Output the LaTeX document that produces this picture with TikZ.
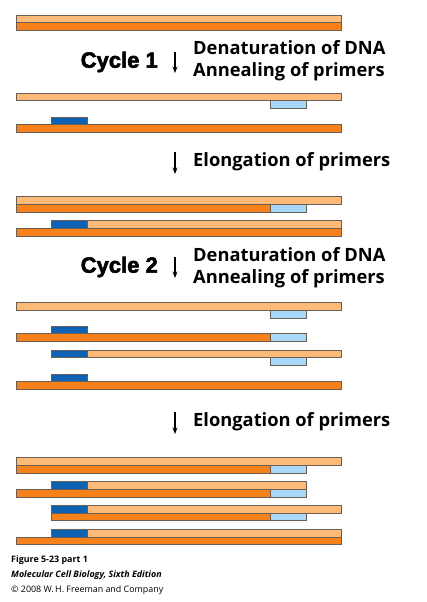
\documentclass[tikz,border=0pt]{standalone}
\usepackage{fontspec}
\setmainfont{Open Sans}
\newfontfamily\heavyfont[FakeBold=2.6]{Liberation Sans Bold}
\newfontfamily\capfont{Open Sans}
\usetikzlibrary{arrows.meta}
\definecolor{LO}{HTML}{FDBA78}
\definecolor{DO}{HTML}{F7821B}
\definecolor{LB}{HTML}{A8D8F8}
\definecolor{DB}{HTML}{0E62B4}
\definecolor{EDGE}{HTML}{6A5E55}
\tikzset{
  seg/.style={draw=EDGE, line width=0.6pt},
  stepword/.style={anchor=west, inner sep=0pt, font=\bfseries\fontsize{18.3}{18.3}\selectfont},
  cyclelabel/.style={anchor=east, inner sep=0pt, font=\heavyfont\fontsize{22}{22}\selectfont},
  downarrow/.style={line width=1.2pt, -{Stealth[length=6.5pt,width=5pt]}},
  captext/.style={anchor=west, inner sep=0pt, font=\capfont\fontsize{8.9}{8.9}\selectfont}
}
\newcommand{\sg}[4]{\fill[#4] (#1,#3) rectangle (#2,#3+7.6); \draw[seg] (#1,#3) rectangle (#2,#3+7.6);}
\begin{document}
\begin{tikzpicture}[x=1pt,y=-1pt]
\useasboundingbox[fill=white] (0,0) rectangle (426,602);
% initial duplex
\sg{16}{341}{15}{LO}\sg{16}{341}{22.6}{DO}
% cycle 1 text
\node[cyclelabel] (c1) at (158,62) {Cycle 1};
\coordinate (a1s) at (175,52); \coordinate (a1e) at (175,73);
\draw[downarrow] (a1s) -- (a1e);
\node[stepword] (d1) at (193,48) {Denaturation of DNA};
\node[stepword] (an1) at (193,72) {Annealing of primers};
% after annealing
\sg{16}{341}{93}{LO}\sg{270}{306}{100.6}{LB}
\sg{51}{87}{117}{DB}\sg{16}{341}{124.6}{DO}
% elongation 1
\coordinate (a2s) at (175,152); \coordinate (a2e) at (175,174);
\draw[downarrow] (a2s) -- (a2e);
\node[stepword] (e1) at (193,162) {Elongation of primers};
\sg{16}{341}{196.7}{LO}\sg{16}{270}{204.3}{DO}\sg{270}{306}{204.3}{LB}
\sg{51}{87}{220.7}{DB}\sg{87}{341}{220.7}{LO}\sg{16}{341}{228.3}{DO}
% cycle 2
\node[cyclelabel] (c2) at (158,267) {Cycle 2};
\coordinate (a3s) at (175,257); \coordinate (a3e) at (175,278);
\draw[downarrow] (a3s) -- (a3e);
\node[stepword] (d2) at (193,255) {Denaturation of DNA};
\node[stepword] (an2) at (193,279) {Annealing of primers};
\sg{16}{341}{302.7}{LO}\sg{270}{306}{310.3}{LB}
\sg{51}{87}{326}{DB}\sg{16}{270}{333.6}{DO}\sg{270}{306}{333.6}{LB}
\sg{51}{87}{350}{DB}\sg{87}{341}{350}{LO}\sg{270}{306}{357.6}{LB}
\sg{51}{87}{374}{DB}\sg{16}{341}{381.6}{DO}
% elongation 2
\coordinate (a4s) at (175,412); \coordinate (a4e) at (175,434);
\draw[downarrow] (a4s) -- (a4e);
\node[stepword] (e2) at (193,422) {Elongation of primers};
\sg{16}{341}{457.7}{LO}\sg{16}{270}{465.3}{DO}\sg{270}{306}{465.3}{LB}
\sg{51}{87}{481.7}{DB}\sg{87}{306}{481.7}{LO}\sg{16}{270}{489.3}{DO}\sg{270}{306}{489.3}{LB}
\sg{51}{87}{505.3}{DB}\sg{87}{341}{505.3}{LO}\sg{51}{270}{512.9}{DO}\sg{270}{306}{512.9}{LB}
\sg{51}{87}{529.3}{DB}\sg{87}{341}{529.3}{LO}\sg{16}{341}{536.9}{DO}
% caption
\node[captext, font=\capfont\bfseries\fontsize{8.9}{8.9}\selectfont] (f1) at (11,560) {Figure 5-23 part 1};
\node[captext, font=\capfont\bfseries\itshape\fontsize{8.9}{8.9}\selectfont] (f2) at (11,575) {Molecular Cell Biology, Sixth Edition};
\node[captext] (f3) at (11,590) {\textcopyright\ 2008 W.\,H. Freeman and Company};
\end{tikzpicture}
\end{document}
